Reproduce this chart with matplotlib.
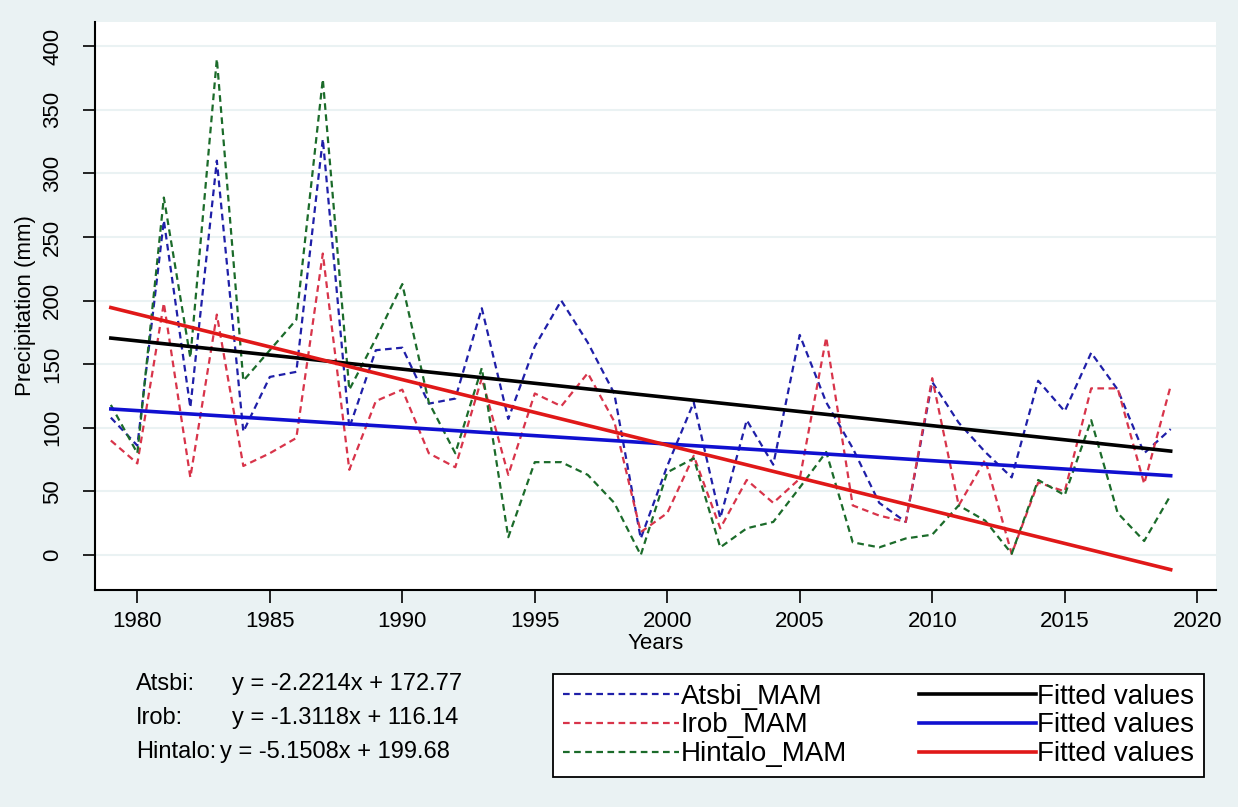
import matplotlib
matplotlib.use("Agg")
import matplotlib.pyplot as plt
import numpy as np

years = list(range(1979, 2020))

atsbi = [108, 86, 263, 116, 310, 97, 140, 144, 327, 100, 161, 163, 119, 123, 194, 107,
         164, 200, 167, 127, 13, 70, 120, 29, 106, 71, 173, 120, 84, 41, 26, 136, 104,
         81, 61, 137, 113, 159, 130, 80, 99]
irob = [90, 72, 198, 61, 189, 70, 80, 92, 237, 67, 121, 130, 80, 69, 139, 63, 127, 117,
        143, 105, 18, 33, 78, 21, 59, 41, 60, 171, 39, 31, 26, 139, 39, 75, 1, 57, 50,
        131, 131, 56, 133]
hintalo = [118, 80, 281, 155, 390, 137, 161, 185, 374, 130, 170, 213, 120, 80, 147, 14,
           73, 73, 63, 41, 0, 65, 76, 6, 21, 26, 53, 81, 10, 6, 13, 16, 39, 27, 1, 59, 47,
           106, 33, 11, 47]

# trend equations (x = 1..n)
slopes = [-2.2214, -1.3118, -5.1508]
intercepts = [172.77, 116.14, 199.68]
stations = ["Atsbi", "Irob", "Hintalo"]

plt.rcParams['font.family'] = ['Liberation Sans Narrow', 'Liberation Sans', 'DejaVu Sans']

bg = "#eaf2f3"
fig = plt.figure(figsize=(12.38, 8.07), dpi=100, facecolor=bg)
ax = fig.add_axes([0.0767, 0.2689, 0.9053, 0.7038])
ax.set_facecolor("white")

data_colors = ["#1f1fa8", "#d8344a", "#1b6b2a"]
fit_colors = ["black", "#1010d0", "#e01818"]

obs_handles = []
for series, name, c in zip([atsbi, irob, hintalo], stations, data_colors):
    h, = ax.plot(years, series, color=c, lw=1.6, linestyle=(0, (3, 2)),
                 label=name + "_MAM")
    obs_handles.append(h)

x = np.arange(1, len(years) + 1)
fit_handles = []
for m, b, c in zip(slopes, intercepts, fit_colors):
    h, = ax.plot(years, m * x + b, color=c, lw=2.6, label="Fitted values")
    fit_handles.append(h)

ax.set_xlim(1978.4, 2020.7)
ax.set_ylim(-27.5, 419)
ax.set_xticks(range(1980, 2021, 5))
ax.set_yticks(range(0, 401, 50))
ax.tick_params(axis='x', labelsize=16, length=9, width=1.2, pad=6)
ax.tick_params(axis='y', labelsize=16, length=9, width=1.2, pad=14)
for lab in ax.get_yticklabels():
    lab.set_rotation(90)
    lab.set_va('center')
ax.grid(axis='y', color=bg, lw=1.5)
ax.set_axisbelow(True)
for s in ["top", "right"]:
    ax.spines[s].set_visible(False)
for s in ["left", "bottom"]:
    ax.spines[s].set_linewidth(1.5)

ax.set_xlabel("Years", fontsize=16, labelpad=1)
ax.set_ylabel("Precipitation (mm)", fontsize=16, labelpad=4)

eq_lines = [("Atsbi:", "y = -2.2214x + 172.77", 232),
            ("Irob:", "y = -1.3118x + 116.14", 232),
            ("Hintalo:", "y = -5.1508x + 199.68", 220)]
for i, (name, eq, ex) in enumerate(eq_lines):
    yy = 1 - (684 + i * 34) / 807
    fig.text(136 / 1238, yy, name, fontsize=17, va='center', ha='left')
    fig.text(ex / 1238, yy, eq, fontsize=17, va='center', ha='left')

leg = fig.legend(handles=obs_handles + fit_handles, ncol=2, loc='lower left',
                 bbox_to_anchor=(553 / 1238, 1 - 777 / 807, (1204 - 553) / 1238, (777 - 665) / 807),
                 mode='expand', borderaxespad=0, fontsize=20, frameon=True, fancybox=False,
                 edgecolor='black', handlelength=4.2, handletextpad=0.05,
                 borderpad=0.35, labelspacing=0.1, columnspacing=0.5)
leg.get_frame().set_linewidth(1.3)
leg.get_frame().set_facecolor("white")
leg.get_frame().set_alpha(1)

fig.savefig("out.png", dpi=100, facecolor=bg)
